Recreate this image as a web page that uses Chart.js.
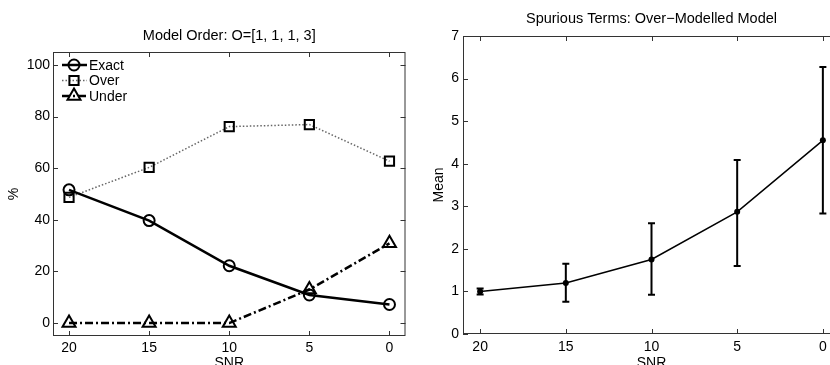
<!DOCTYPE html>
<html>
<head>
<meta charset="utf-8">
<script src="https://cdn.jsdelivr.net/npm/chart.js@4"></script>
<style>
  body { margin: 0; width: 830px; height: 365px; overflow: hidden; background: #fff; position: relative; }
  canvas { position: absolute; top: 0; }
  #left { left: 0; }
  #right { left: 415px; }
</style>
</head>
<body>
<canvas id="left" width="415" height="375"></canvas>
<canvas id="right" width="430" height="375"></canvas>
<script>
// data
const snr = [20, 15, 10, 5, 0]
const exact = [51.6, 39.7, 22.2, 10.9, 7.2]
const over = [48.7, 60.3, 76.1, 76.9, 62.7]
const under = [0, 0, 0, 13.0, 30.9]
const meanTerms = [1.0, 1.2, 1.75, 2.87, 4.55]
const errLow = [0.93, 0.76, 0.92, 1.6, 2.83]
const errHigh = [1.07, 1.65, 2.6, 4.09, 6.27]
const snrTicks = [0, 5, 10, 15, 20]
const pctTicks = [0, 20, 40, 60, 80, 100]
const meanTicks = [0, 1, 2, 3, 4, 5, 6, 7]

const FONT = '"Liberation Sans", Arial, Helvetica, sans-serif'
Chart.defaults.font.family = FONT
Chart.defaults.font.size = 14
Chart.defaults.color = '#000'
Chart.defaults.animation = false

const pts = ys => snr.map((x, i) => ({ x: x, y: ys[i] }))
const setTicks = vals => scale => { scale.ticks = vals.map(v => ({ value: v })) }

// MATLAB style box with inward ticks
const boxTicks = {
  id: 'boxTicks',
  beforeDatasetsDraw(chart) {
    const { ctx, chartArea: a, scales: { x, y } } = chart
    ctx.save()
    ctx.strokeStyle = '#333'
    ctx.lineWidth = 1
    ctx.strokeRect(a.left + 0.5, a.top + 0.5, a.right - a.left - 1, a.bottom - a.top - 1)
    ctx.beginPath()
    x.ticks.forEach(t => {
      const px = Math.round(x.getPixelForValue(t.value)) + 0.5
      ctx.moveTo(px, a.bottom); ctx.lineTo(px, a.bottom - 5)
      ctx.moveTo(px, a.top); ctx.lineTo(px, a.top + 5)
    })
    y.ticks.forEach(t => {
      const py = Math.round(y.getPixelForValue(t.value)) + 0.5
      ctx.moveTo(a.left, py); ctx.lineTo(a.left + 5, py)
      ctx.moveTo(a.right, py); ctx.lineTo(a.right - 5, py)
    })
    ctx.stroke()
    ctx.restore()
  }
}

// title centred over the axes box, like MATLAB
const axesTitle = {
  id: 'axesTitle',
  afterDraw(chart, args, opts) {
    const { ctx, chartArea: a } = chart
    ctx.save()
    ctx.fillStyle = '#000'
    ctx.font = '14.5px ' + FONT
    ctx.textAlign = 'center'
    ctx.textBaseline = 'middle'
    ctx.fillText(opts.text, (a.left + a.right) / 2, a.top - opts.gap)
    ctx.restore()
  }
}

function marker(ctx, style, x, y, r) {
  ctx.beginPath()
  if (style === 'circle') {
    ctx.arc(x, y, r, 0, Math.PI * 2)
  } else if (style === 'rect') {
    const s = r * Math.SQRT1_2
    ctx.rect(x - s, y - s, 2 * s, 2 * s)
  } else if (style === 'triangle') {
    ctx.moveTo(x, y - r)
    ctx.lineTo(x + r * 0.866, y + r * 0.5)
    ctx.lineTo(x - r * 0.866, y + r * 0.5)
    ctx.closePath()
  }
  ctx.stroke()
}

// legend inside the axes, line sample + marker
const lineLegend = {
  id: 'lineLegend',
  afterDraw(chart) {
    const { ctx, chartArea: a } = chart
    ctx.save()
    chart.data.datasets.forEach((ds, i) => {
      const yy = a.top + 13 + i * 15.5
      ctx.strokeStyle = ds.borderColor
      ctx.lineWidth = ds.borderWidth
      ctx.setLineDash(ds.borderDash || [])
      ctx.beginPath()
      ctx.moveTo(a.left + 9, yy); ctx.lineTo(a.left + 34, yy)
      ctx.stroke()
      ctx.setLineDash([])
      ctx.strokeStyle = '#000'
      ctx.lineWidth = ds.pointBorderWidth
      marker(ctx, ds.pointStyle, a.left + 21, yy, ds.pointRadius)
      ctx.fillStyle = '#000'
      ctx.font = '14px ' + FONT
      ctx.textBaseline = 'middle'
      ctx.fillText(ds.label, a.left + 36, yy + 1)
    })
    ctx.restore()
  }
}

// vertical error bars from errLow / errHigh
const errorBars = {
  id: 'errorBars',
  afterDatasetsDraw(chart, args, opts) {
    const { ctx, scales: { x, y } } = chart
    ctx.save()
    ctx.strokeStyle = '#000'
    ctx.lineWidth = 2
    ctx.beginPath()
    snr.forEach((v, i) => {
      const px = x.getPixelForValue(v)
      const lo = y.getPixelForValue(opts.low[i])
      const hi = y.getPixelForValue(opts.high[i])
      ctx.moveTo(px, lo); ctx.lineTo(px, hi)
      ctx.moveTo(px - 3.5, lo); ctx.lineTo(px + 3.5, lo)
      ctx.moveTo(px - 3.5, hi); ctx.lineTo(px + 3.5, hi)
    })
    ctx.stroke()
    ctx.restore()
  }
}

const xScale = (h, pad) => ({
  type: 'linear',
  min: -1,
  max: 21,
  reverse: true,
  grid: { display: false, drawTicks: false },
  border: { display: false },
  afterBuildTicks: setTicks(snrTicks),
  afterFit: s => { s.height = h },
  ticks: { padding: pad, maxRotation: 0 },
  title: { display: true, text: 'SNR', padding: { top: 0, bottom: 3 } }
})

new Chart(document.getElementById('left'), {
  type: 'line',
  data: {
    datasets: [
      {
        label: 'Exact',
        data: pts(exact),
        borderColor: '#000',
        borderWidth: 2.5,
        pointStyle: 'circle',
        pointRadius: 5.5,
        pointBorderWidth: 2,
        pointBorderColor: '#000',
        pointBackgroundColor: 'rgba(0,0,0,0)'
      },
      {
        label: 'Over',
        data: pts(over),
        borderColor: '#666',
        borderWidth: 1.5,
        borderDash: [1.5, 2],
        pointStyle: 'rect',
        pointRadius: 6.5,
        pointBorderWidth: 2,
        pointBorderColor: '#000',
        pointBackgroundColor: 'rgba(0,0,0,0)'
      },
      {
        label: 'Under',
        data: pts(under),
        borderColor: '#000',
        borderWidth: 2.5,
        borderDash: [8, 3, 2, 3],
        pointStyle: 'triangle',
        pointRadius: 7.5,
        pointBorderWidth: 2,
        pointBorderColor: '#000',
        pointBackgroundColor: 'rgba(0,0,0,0)'
      }
    ]
  },
  options: {
    responsive: false,
    clip: false,
    layout: { padding: { left: 0, right: 3, top: 52, bottom: 0 } },
    plugins: {
      legend: { display: false },
      tooltip: { enabled: false },
      axesTitle: { text: 'Model Order: O=[1, 1, 1, 3]', gap: 16.5 }
    },
    scales: {
      x: xScale(39, 4),
      y: {
        type: 'linear',
        min: -5,
        max: 105,
        grid: { display: false, drawTicks: false },
        border: { display: false },
        afterBuildTicks: setTicks(pctTicks),
        afterFit: s => { s.width = 53 },
        ticks: { padding: 3 },
        title: { display: true, text: '%', padding: { top: 6, bottom: 0 } }
      }
    }
  },
  plugins: [boxTicks, lineLegend, axesTitle]
})

new Chart(document.getElementById('right'), {
  type: 'line',
  data: {
    datasets: [{
      label: 'Mean',
      data: pts(meanTerms),
      borderColor: '#000',
      borderWidth: 1.5,
      pointStyle: 'circle',
      pointRadius: 3,
      pointBorderWidth: 0,
      pointBackgroundColor: '#000'
    }]
  },
  options: {
    responsive: false,
    clip: false,
    layout: { padding: { left: 0, right: 5, top: 36, bottom: 0 } },
    plugins: {
      legend: { display: false },
      tooltip: { enabled: false },
      axesTitle: { text: 'Spurious Terms: Over\u2212Modelled Model', gap: 17.5 },
      errorBars: { low: errLow, high: errHigh }
    },
    scales: {
      x: xScale(41, 5),
      y: {
        type: 'linear',
        min: 0,
        max: 7,
        grid: { display: false, drawTicks: false },
        border: { display: false },
        afterBuildTicks: setTicks(meanTicks),
        afterFit: s => { s.width = 48 },
        ticks: { padding: 4 },
        title: { display: true, text: 'Mean', padding: { top: 16, bottom: 0 } }
      }
    }
  },
  plugins: [boxTicks, errorBars, axesTitle]
})
</script>
</body>
</html>
